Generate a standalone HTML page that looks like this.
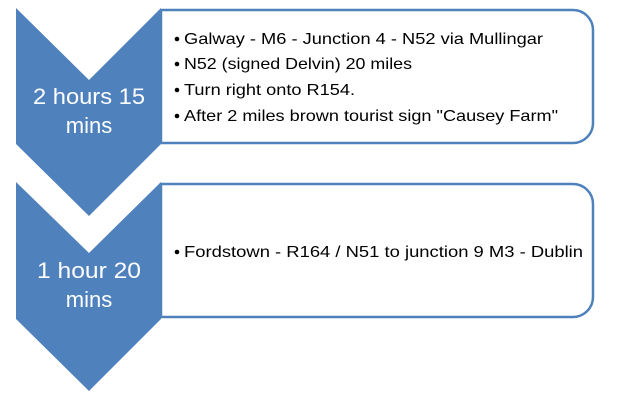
<!DOCTYPE html>
<html><head><meta charset="utf-8"><style>
html,body{margin:0;padding:0;background:#fff;}
svg{display:block;}
text{font-family:"Liberation Sans",sans-serif;}
</style></head><body>
<svg width="618" height="411" viewBox="0 0 618 411" xmlns="http://www.w3.org/2000/svg">
<path d="M161,10 H573 A20,20 0 0 1 593,30 V123 A20,20 0 0 1 573,143 H161 Z" fill="#fff" stroke="#4F81BD" stroke-width="2.5"/>
<path d="M161,184 H573 A20,20 0 0 1 593,204 V297 A20,20 0 0 1 573,317 H161 Z" fill="#fff" stroke="#4F81BD" stroke-width="2.5"/>
<polygon points="16,8 89,80 161,8 161,144 89,216 16,144" fill="#4F81BD"/>
<polygon points="16,182 89,253 161,182 161,319 89,391 16,319" fill="#4F81BD"/>
<g fill="#fff" font-size="22" text-anchor="middle">
<text x="89" y="104" textLength="112" lengthAdjust="spacingAndGlyphs">2 hours 15</text>
<text x="89" y="133">mins</text>
<text x="89" y="278" textLength="104" lengthAdjust="spacingAndGlyphs">1 hour 20</text>
<text x="89" y="307">mins</text>
</g>
<g fill="#000" font-size="16">
<circle cx="177" cy="39" r="2.3"/><circle cx="177" cy="64" r="2.3"/><circle cx="177" cy="90" r="2.3"/><circle cx="177" cy="116" r="2.3"/><circle cx="177" cy="252" r="2.3"/>
<text x="184" y="44" textLength="359" lengthAdjust="spacingAndGlyphs">Galway - M6 - Junction 4 - N52 via Mullingar</text>
<text x="184" y="69" textLength="228" lengthAdjust="spacingAndGlyphs">N52 (signed Delvin) 20 miles</text>
<text x="184" y="95" textLength="171" lengthAdjust="spacingAndGlyphs">Turn right onto R154.</text>
<text x="184" y="121" textLength="374" lengthAdjust="spacingAndGlyphs">After 2 miles brown tourist sign "Causey Farm"</text>
<text x="184" y="257" textLength="399" lengthAdjust="spacingAndGlyphs">Fordstown - R164 / N51 to junction 9 M3 - Dublin</text>
</g>
</svg>
</body></html>
